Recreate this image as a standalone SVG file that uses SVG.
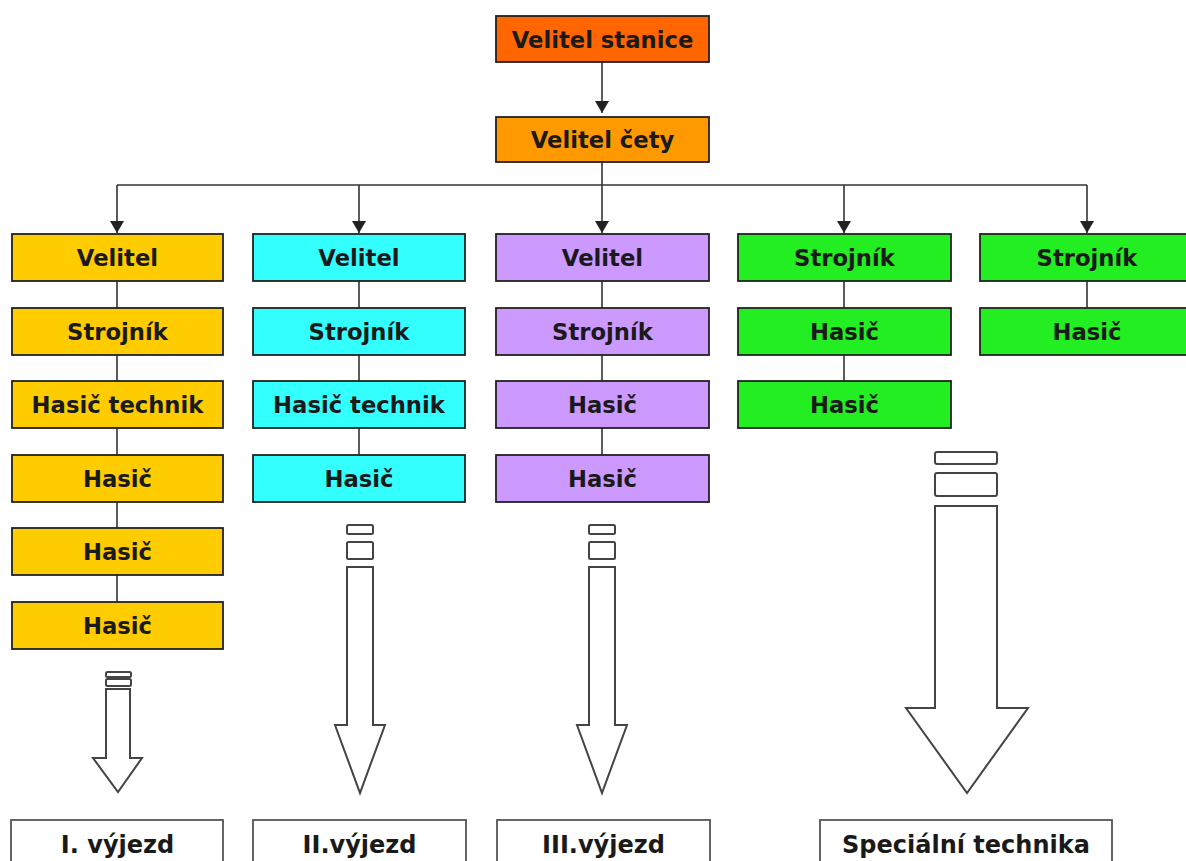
<svg xmlns="http://www.w3.org/2000/svg" width="1186" height="861" viewBox="0 0 1186 861">
<defs>
<style>
.box{stroke:#222;stroke-width:1.8}
.t{font-family:"DejaVu Sans",Verdana,sans-serif;font-weight:bold;font-size:22.7px;fill:#1a1a1a;text-anchor:middle}
.b{font-family:"DejaVu Sans",Verdana,sans-serif;font-weight:bold;font-size:24px;fill:#1a1a1a;text-anchor:middle}
.c{stroke:#333;stroke-width:1.6;fill:none}
.h{fill:#fff;stroke:#444;stroke-width:2;stroke-linejoin:miter}
.lb{fill:#fff;stroke:#555;stroke-width:1.8}
.vs{fill:#FF6600}.vc{fill:#FF9900}.y{fill:#FFCC00}.cy{fill:#33FFFF}.p{fill:#CC99FF}.g{fill:#22EE22}
</style>
<marker id="ah" markerWidth="12" markerHeight="14" refX="12" refY="7" orient="auto" markerUnits="userSpaceOnUse" viewBox="0 0 12 14">
<path d="M0,0 L12,7 L0,14 z" fill="#222"/>
</marker>
</defs>
<rect width="1186" height="861" fill="#fff"/>

<g id="connectors">
<line class="c" x1="602" y1="62" x2="602" y2="113" marker-end="url(#ah)"/>
<line class="c" x1="602" y1="162" x2="602" y2="185"/>
<line class="c" x1="117" y1="185" x2="1087" y2="185"/>
<line class="c" x1="117" y1="185" x2="117" y2="233" marker-end="url(#ah)"/>
<line class="c" x1="359" y1="185" x2="359" y2="233" marker-end="url(#ah)"/>
<line class="c" x1="602" y1="185" x2="602" y2="233" marker-end="url(#ah)"/>
<line class="c" x1="844" y1="185" x2="844" y2="233" marker-end="url(#ah)"/>
<line class="c" x1="1087" y1="185" x2="1087" y2="233" marker-end="url(#ah)"/>
<line class="c" x1="117" y1="281" x2="117" y2="602"/>
<line class="c" x1="359" y1="281" x2="359" y2="455"/>
<line class="c" x1="602" y1="281" x2="602" y2="455"/>
<line class="c" x1="844" y1="281" x2="844" y2="381"/>
<line class="c" x1="1087" y1="281" x2="1087" y2="308"/>
</g>

<g id="n-velitel-stanice"><rect class="box vs" x="496" y="16" width="213" height="46"/><text class="t" x="602.5" y="47.5">Velitel stanice</text></g>
<g id="n-velitel-cety"><rect class="box vc" x="496" y="117" width="213" height="45"/><text class="t" x="602.5" y="148">Velitel čety</text></g>

<g id="c1-velitel"><rect class="box y" x="12" y="234" width="211" height="47"/><text class="t" x="117.5" y="266">Velitel</text></g>
<g id="c1-strojnik"><rect class="box y" x="12" y="308" width="211" height="47"/><text class="t" x="117.5" y="340">Strojník</text></g>
<g id="c1-hasic-technik"><rect class="box y" x="12" y="381" width="211" height="47"/><text class="t" x="117.5" y="413">Hasič technik</text></g>
<g id="c1-hasic1"><rect class="box y" x="12" y="455" width="211" height="47"/><text class="t" x="117.5" y="487">Hasič</text></g>
<g id="c1-hasic2"><rect class="box y" x="12" y="528" width="211" height="47"/><text class="t" x="117.5" y="560">Hasič</text></g>
<g id="c1-hasic3"><rect class="box y" x="12" y="602" width="211" height="47"/><text class="t" x="117.5" y="634">Hasič</text></g>

<g id="c2-velitel"><rect class="box cy" x="253" y="234" width="212" height="47"/><text class="t" x="359" y="266">Velitel</text></g>
<g id="c2-strojnik"><rect class="box cy" x="253" y="308" width="212" height="47"/><text class="t" x="359" y="340">Strojník</text></g>
<g id="c2-hasic-technik"><rect class="box cy" x="253" y="381" width="212" height="47"/><text class="t" x="359" y="413">Hasič technik</text></g>
<g id="c2-hasic"><rect class="box cy" x="253" y="455" width="212" height="47"/><text class="t" x="359" y="487">Hasič</text></g>

<g id="c3-velitel"><rect class="box p" x="496" y="234" width="213" height="47"/><text class="t" x="602.5" y="266">Velitel</text></g>
<g id="c3-strojnik"><rect class="box p" x="496" y="308" width="213" height="47"/><text class="t" x="602.5" y="340">Strojník</text></g>
<g id="c3-hasic1"><rect class="box p" x="496" y="381" width="213" height="47"/><text class="t" x="602.5" y="413">Hasič</text></g>
<g id="c3-hasic2"><rect class="box p" x="496" y="455" width="213" height="47"/><text class="t" x="602.5" y="487">Hasič</text></g>

<g id="c4-strojnik"><rect class="box g" x="738" y="234" width="213" height="47"/><text class="t" x="844.5" y="266">Strojník</text></g>
<g id="c4-hasic1"><rect class="box g" x="738" y="308" width="213" height="47"/><text class="t" x="844.5" y="340">Hasič</text></g>
<g id="c4-hasic2"><rect class="box g" x="738" y="381" width="213" height="47"/><text class="t" x="844.5" y="413">Hasič</text></g>

<g id="c5-strojnik"><rect class="box g" x="980" y="234" width="212" height="47"/><text class="t" x="1087" y="266">Strojník</text></g>
<g id="c5-hasic"><rect class="box g" x="980" y="308" width="212" height="47"/><text class="t" x="1087" y="340">Hasič</text></g>

<g id="arrow-1">
<rect class="h" x="106" y="672" width="25" height="5" rx="1.5"/>
<rect class="h" x="106" y="679" width="25" height="7" rx="1.5"/>
<path class="h" d="M106,689 L130,689 L130,758 L142,758 L118,792 L93,758 L106,758 Z"/>
</g>
<g id="arrow-2">
<rect class="h" x="347" y="525" width="26" height="9" rx="1.5"/>
<rect class="h" x="347" y="542" width="26" height="17" rx="1.5"/>
<path class="h" d="M347,567 L373,567 L373,725 L385,725 L360,793 L335,725 L347,725 Z"/>
</g>
<g id="arrow-3">
<rect class="h" x="589" y="525" width="26" height="9" rx="1.5"/>
<rect class="h" x="589" y="542" width="26" height="17" rx="1.5"/>
<path class="h" d="M589,567 L615,567 L615,725 L627,725 L602,793 L577,725 L589,725 Z"/>
</g>
<g id="arrow-4">
<rect class="h" x="935" y="452" width="62" height="12" rx="2"/>
<rect class="h" x="935" y="473" width="62" height="23" rx="2"/>
<path class="h" d="M935,506 L997,506 L997,708 L1028,708 L967,793 L906,708 L935,708 Z"/>
</g>

<g id="l-vyjezd1"><rect class="lb" x="11" y="820" width="212" height="50"/><text class="b" x="117.5" y="853">I. výjezd</text></g>
<g id="l-vyjezd2"><rect class="lb" x="253" y="820" width="213" height="50"/><text class="b" x="359.5" y="853">II.výjezd</text></g>
<g id="l-vyjezd3"><rect class="lb" x="497" y="820" width="213" height="50"/><text class="b" x="603.5" y="853">III.výjezd</text></g>
<g id="l-specialni"><rect class="lb" x="820" y="820" width="292" height="50"/><text class="b" x="966" y="853">Speciální technika</text></g>
</svg>
